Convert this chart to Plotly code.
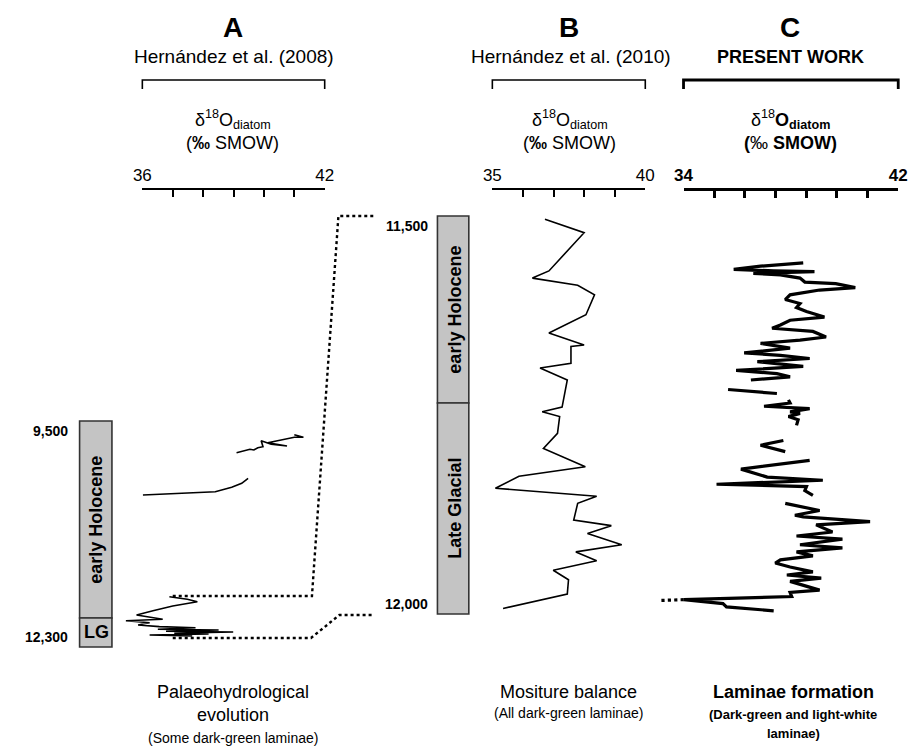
import plotly.graph_objects as go

# ---------------- data ----------------
# Panel A (Hernández et al. 2008): d18O diatom vs age (cal yr BP)
A1_val = [39.10, 39.54, 39.67, 39.80, 39.97, 39.91, 40.24, 40.76, 40.13, 41.00, 41.30, 41.00]
A1_age = [9893, 9851, 9859, 9831, 9818, 9744, 9789, 9810, 9769, 9702, 9702, 9670]
A2_val = [36.02, 38.40, 38.94, 39.27, 39.48]
A2_age = [10417, 10376, 10321, 10272, 10210]
A3_val = [36.89, 37.48, 37.81, 37.00, 36.35, 35.81, 36.67, 35.46, 36.24, 35.86,
          36.56, 37.75, 36.51, 38.51, 36.78, 38.99, 37.05, 38.18, 36.24, 37.64]
A3_age = [11677, 11709, 11739, 11792, 11850, 11904, 11957, 11974, 11999, 12027,
          12048, 12061, 12081, 12089, 12105, 12114, 12130, 12139, 12151, 12164]

# Panel B (Hernández et al. 2010)
B_val = [36.72, 38.00, 36.85, 36.31, 37.79, 38.34, 38.06, 36.85, 38.00, 37.57, 37.57,
         36.56, 37.45, 37.28, 36.63, 37.20, 37.13, 36.67, 38.04, 35.87, 35.10, 38.41,
         37.79, 37.66, 38.89, 38.11, 39.23, 37.73, 38.41, 36.99, 37.49, 37.45, 35.35]
B_age = [11504, 11521, 11569, 11578, 11587, 11599, 11624, 11647, 11662, 11664, 11685,
         11691, 11706, 11740, 11746, 11752, 11773, 11792, 11815, 11827, 11842, 11852,
         11861, 11882, 11889, 11899, 11913, 11922, 11933, 11945, 11957, 11975, 11993]

# Panel C (present work)
C1_val = [38.46, 36.87, 35.87, 37.36, 38.88, 36.60, 37.61, 38.34, 38.52, 39.67, 40.40,
          39.07, 37.97, 37.79, 38.34, 38.21, 38.58, 39.25, 37.97, 37.61, 37.30, 38.82,
          39.31, 38.34, 36.87, 37.97, 36.26, 37.61, 38.70, 36.75, 38.46, 35.96, 37.48,
          37.97, 36.51]
C1_age = [11559, 11563, 11567, 11569, 11570, 11572, 11574, 11578, 11583, 11585, 11590,
          11593, 11599, 11605, 11610, 11615, 11620, 11627, 11631, 11637, 11641, 11645,
          11652, 11656, 11660, 11666, 11672, 11675, 11679, 11683, 11689, 11694, 11698,
          11702, 11706]
C2_val = [35.66, 37.48]
C2_age = [11718, 11723]
C3_val = [37.91, 37.97, 37.00, 38.70, 37.97, 38.34, 37.91, 38.27, 38.21]
C3_age = [11731, 11735, 11739, 11742, 11746, 11748, 11752, 11756, 11763]
C4_val = [37.72, 36.87, 37.79]
C4_age = [11782, 11788, 11796]
C5_val = [38.70, 36.14, 37.12, 39.19, 35.23, 38.58, 38.52, 38.82]
C5_age = [11807, 11818, 11828, 11832, 11837, 11840, 11845, 11851]
C6_val = [37.79, 39.07, 38.15, 38.46, 40.95, 38.94, 39.55, 38.21, 39.92, 38.34, 39.92,
          38.21, 38.82, 37.61, 37.42, 37.97, 38.82, 37.85, 39.13, 37.97, 39.07, 37.97,
          38.03, 34.01, 35.47, 35.60, 37.36]
C6_age = [11861, 11870, 11876, 11878, 11884, 11888, 11897, 11902, 11906, 11913, 11917,
          11922, 11927, 11932, 11936, 11941, 11947, 11951, 11955, 11959, 11970, 11973,
          11978, 11982, 11987, 11991, 11996]
C_dash_val = [34.01, 33.09]
C_dash_age = [11982, 11983]

# Chronology bars
A_chron_edges = [9500, 11940, 12300]
A_chron_names = ["early Holocene", "LG"]
B_chron_edges = [11500, 11735, 12000]
B_chron_names = ["early Holocene", "Late Glacial"]

# Axis scales (labelled ends, minor ticks between)
A_ticks = [36, 42]
A_ticklabels = ["36", "42"]
A_minor_step = 1
B_ticks = [35, 40]
B_ticklabels = ["35", "40"]
B_minor_step = 1
C_ticks = [34, 42]
C_ticklabels = ["<b>34</b>", "<b>42</b>"]
C_minor_step = 8 / 7

# ---------------- layout helpers ----------------
W, H = 919, 750
def px(x):
    return x / W
def py(y):
    return 1 - y / H

SANS = "Liberation Sans, Arial"

# pixel anchors of each panel scale
A_x0, A_x1 = 136, 322
B_x0, B_x1 = 493, 649
C_x0, C_x1 = 688, 907
AXIS_Y = 189

def lin(p, p0, p1, v0, v1):
    return v0 + (p - p0) * (v1 - v0) / (p1 - p0)

fig = go.Figure()

def add_line(xs, ys, xa, ya, width, dash="solid"):
    fig.add_trace(go.Scatter(x=xs, y=ys, xaxis=xa, yaxis=ya, mode="lines",
                             line=dict(color="black", width=width, dash=dash),
                             showlegend=False, hoverinfo="skip"))

for v, a in [(A1_val, A1_age), (A2_val, A2_age), (A3_val, A3_age)]:
    add_line(v, a, "x", "y", 1.6)
add_line(B_val, B_age, "x2", "y2", 1.6)
for v, a in [(C1_val, C1_age), (C2_val, C2_age), (C3_val, C3_age), (C4_val, C4_age),
             (C5_val, C5_age), (C6_val, C6_age)]:
    add_line(v, a, "x3", "y2", 3.2)
add_line(C_dash_val, C_dash_age, "x3", "y2", 3.2, dash="dot")

# invisible anchors so the scale axes are drawn
for ticks, xa in [(A_ticks, "x4"), (B_ticks, "x5"), (C_ticks, "x6")]:
    fig.add_trace(go.Scatter(x=ticks, y=[A_chron_edges[0]] * len(ticks), xaxis=xa, yaxis="y",
                             mode="markers", marker=dict(opacity=0, size=1),
                             showlegend=False, hoverinfo="skip"))

# age mappings (pixel rows of chronology bars)
A_top_px, A_bot_px = 421, 647
B_top_px, B_bot_px = 216, 614
yA = [lin(H, A_top_px, A_bot_px, 9500, 12300), lin(0, A_top_px, A_bot_px, 9500, 12300)]
yB = [lin(H, B_top_px, B_bot_px, 11500, 12000), lin(0, B_top_px, B_bot_px, 11500, 12000)]

hidden = dict(visible=False, showgrid=False, zeroline=False, fixedrange=True)

def scale_axis(x0, x1, r0, r1, ticks, labels, step, lw, bold=False):
    return dict(domain=[px(x0), px(x1)], range=[r0, r1], anchor="free", position=py(AXIS_Y),
                side="top", showline=True, linecolor="black", linewidth=lw,
                ticks="inside", ticklen=7, tickwidth=lw, tickcolor="black",
                tickvals=ticks, ticktext=labels, showgrid=False, zeroline=False,
                minor=dict(tick0=r0, dtick=step, ticks="inside", ticklen=7, tickwidth=lw,
                           tickcolor="black", showgrid=False),
                tickfont=dict(family=SANS, size=17, color="black"),
                fixedrange=True)

fig.update_layout(
    width=W, height=H, margin=dict(l=0, r=0, t=0, b=0),
    paper_bgcolor="white", plot_bgcolor="rgba(0,0,0,0)", showlegend=False,
    xaxis=dict(domain=[px(95), px(340)],
               range=[lin(95, A_x0, A_x1, 36, 42), lin(340, A_x0, A_x1, 36, 42)],
               anchor="y", **hidden),
    yaxis=dict(domain=[0, 1], range=yA, anchor="x", **hidden),
    xaxis2=dict(domain=[px(480), px(660)],
                range=[lin(480, B_x0, B_x1, 35, 40), lin(660, B_x0, B_x1, 35, 40)],
                anchor="y2", **hidden),
    yaxis2=dict(domain=[0, 1], range=yB, anchor="x2", **hidden),
    xaxis3=dict(domain=[px(650), px(919)],
                range=[lin(650, C_x0, C_x1, 34, 42), lin(919, C_x0, C_x1, 34, 42)],
                anchor="y2", **hidden),
    xaxis4=scale_axis(A_x0, A_x1, 36, 42, A_ticks, A_ticklabels, A_minor_step, 1.6),
    xaxis5=scale_axis(B_x0, B_x1, 35, 40, B_ticks, B_ticklabels, B_minor_step, 1.6),
    xaxis6=scale_axis(C_x0, C_x1, 34, 42, C_ticks, C_ticklabels, C_minor_step, 2.6, bold=True),
)

shapes = []
# brackets above each scale
for x0, x1, lw in [(A_x0, A_x1, 1.6), (B_x0, B_x1, 1.6), (C_x0, C_x1, 2.8)]:
    shapes.append(dict(type="path", xref="paper", yref="paper",
                       path=f"M {px(x0)},{py(89)} L {px(x0)},{py(80)} L {px(x1)},{py(80)} L {px(x1)},{py(89)}",
                       line=dict(color="black", width=lw)))
# chronology bars
for edges, yref, bx0, bx1 in [(A_chron_edges, "y", 72, 105), (B_chron_edges, "y2", 437, 469)]:
    for i in range(len(edges) - 1):
        shapes.append(dict(type="rect", xref="paper", yref=yref, x0=px(bx0), x1=px(bx1),
                           y0=edges[i], y1=edges[i + 1], fillcolor="#c4c4c4",
                           line=dict(color="#333333", width=1.6), layer="below"))
# dotted correlation lines
for pts in [[(167, 596), (309, 596), (336, 216), (372, 216)],
            [(167, 638), (308, 638), (337, 615), (372, 615)]]:
    path = "M " + " L ".join(f"{px(x)},{py(y)}" for x, y in pts)
    shapes.append(dict(type="path", xref="paper", yref="paper", path=path,
                       line=dict(color="black", width=2.4, dash="dot")))
fig.update_layout(shapes=shapes)

ann = []
def txt(x, y, s, size, xanchor="center", yanchor="middle"):
    ann.append(dict(x=px(x), y=py(y), xref="paper", yref="paper", text=s, showarrow=False,
                    xanchor=xanchor, yanchor=yanchor,
                    font=dict(family=SANS, size=size, color="black")))

# headers
txt(228, 28, "<b>A</b>", 28)
txt(571, 28, "<b>B</b>", 28)
txt(797, 28, "<b>C</b>", 28)
txt(229, 57, "Hernández et al. (2008)", 19)
txt(573, 57, "Hernández et al. (2010)", 19)
txt(797, 57, "<b>PRESENT WORK</b>", 18)
txt(228, 119, "δ<sup>18</sup>O<sub>diatom</sub>", 18)
txt(572, 119, "δ<sup>18</sup>O<sub>diatom</sub>", 18)
txt(797, 119, "δ<sup>18</sup><b>O<sub>diatom</sub></b>", 18)
txt(228, 143, "(<b>‰</b> SMOW)", 18)
txt(572, 143, "(<b>‰</b> SMOW)", 18)
txt(797, 143, "<b>(</b>‰ <b>SMOW)</b>", 18)

# bar labels
def yl(y, yref, s, x, yanchor):
    ann.append(dict(x=px(x), y=y, xref="paper", yref=yref, text=f"<b>{s}</b>", showarrow=False,
                    xanchor="right", yanchor=yanchor,
                    font=dict(family=SANS, size=14, color="black")))
yl(A_chron_edges[0], "y", "9,500", 62, "top")
yl(A_chron_edges[-1], "y", "12,300", 62, "bottom")
yl(B_chron_edges[0], "y2", "11,500", 429, "top")
yl(B_chron_edges[-1], "y2", "12,000", 429, "bottom")

def bar_name(edges, i, yref, xc, s, rot=True, size=18):
    ann.append(dict(x=px(xc), y=(edges[i] + edges[i + 1]) / 2, xref="paper", yref=yref,
                    text=f"<b>{s}</b>", showarrow=False, textangle=-90 if rot else 0,
                    xanchor="center", yanchor="middle",
                    font=dict(family=SANS, size=size, color="black")))
bar_name(A_chron_edges, 0, "y", 89, A_chron_names[0])
bar_name(A_chron_edges, 1, "y", 89, A_chron_names[1], rot=False, size=18)
bar_name(B_chron_edges, 0, "y2", 454, B_chron_names[0])
bar_name(B_chron_edges, 1, "y2", 454, B_chron_names[1])

# bottom captions
txt(228, 692, "Palaeohydrological", 18)
txt(228, 715, "evolution", 18)
txt(228, 738, "(Some dark-green laminae)", 14)
txt(571, 692, "Mositure balance", 18)
txt(571, 713, "(All dark-green laminae)", 14)
txt(800, 692, "<b>Laminae formation</b>", 18)
txt(800, 714, "<b>(Dark-green and light-white</b>", 13)
txt(800, 733, "<b>laminae)</b>", 13)

fig.update_layout(annotations=ann)
fig.write_html("out.html")
